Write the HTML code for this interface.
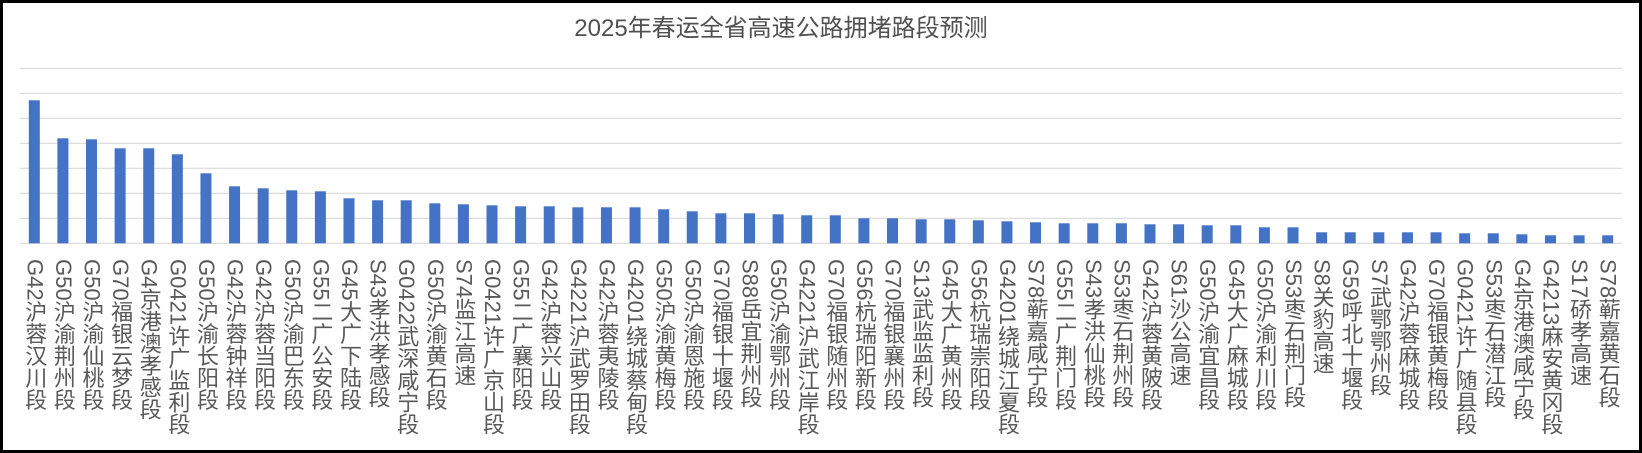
<!DOCTYPE html>
<html><head><meta charset="utf-8">
<style>
html,body{margin:0;padding:0;background:#fff;}
#wrap{position:relative;width:1642px;height:453px;box-sizing:border-box;border:3px solid #000;background:#fff;overflow:hidden;}
svg{position:absolute;left:-3px;top:-3px;}
.lbl{position:absolute;top:256px;writing-mode:vertical-rl;text-orientation:mixed;font-family:"Liberation Sans","Noto Sans CJK SC",sans-serif;font-size:22px;line-height:22px;color:#595959;white-space:nowrap;}
</style></head>
<body>
<div id="wrap">
<svg id="chart" width="1642" height="453" xmlns="http://www.w3.org/2000/svg">
<text x="781" y="36" text-anchor="middle" font-family="Liberation Sans, Noto Sans CJK SC, sans-serif" font-size="24" fill="#505050">2025年春运全省高速公路拥堵路段预测</text>
<g id="grid"></g>
<g id="bars"></g>
</svg>
<div id="labels"></div>
</div>
<script>
const categories = ["G42沪蓉汉川段","G50沪渝荆州段","G50沪渝仙桃段","G70福银云梦段","G4京港澳孝感段","G0421许广监利段","G50沪渝长阳段","G42沪蓉钟祥段","G42沪蓉当阳段","G50沪渝巴东段","G55二广公安段","G45大广下陆段","S43孝洪孝感段","G0422武深咸宁段","G50沪渝黄石段","S74监江高速","G0421许广京山段","G55二广襄阳段","G42沪蓉兴山段","G4221沪武罗田段","G42沪蓉夷陵段","G4201绕城蔡甸段","G50沪渝黄梅段","G50沪渝恩施段","G70福银十堰段","S88岳宜荆州段","G50沪渝鄂州段","G4221沪武江岸段","G70福银随州段","G56杭瑞阳新段","G70福银襄州段","S13武监监利段","G45大广黄州段","G56杭瑞崇阳段","G4201绕城江夏段","S78蕲嘉咸宁段","G55二广荆门段","S43孝洪仙桃段","S53枣石荆州段","G42沪蓉黄陂段","S61沙公高速","G50沪渝宜昌段","G45大广麻城段","G50沪渝利川段","S53枣石荆门段","S8关豹高速","G59呼北十堰段","S7武鄂鄂州段","G42沪蓉麻城段","G70福银黄梅段","G0421许广随县段","S53枣石潜江段","G4京港澳咸宁段","G4213麻安黄冈段","S17硚孝高速","S78蕲嘉黄石段"];
const values = [5.72,4.2,4.16,3.8,3.8,3.56,2.8,2.28,2.2,2.12,2.08,1.8,1.72,1.72,1.6,1.56,1.52,1.48,1.48,1.44,1.44,1.44,1.36,1.28,1.2,1.2,1.16,1.12,1.12,1.0,1.0,0.96,0.96,0.92,0.88,0.84,0.8,0.8,0.8,0.76,0.76,0.72,0.72,0.64,0.64,0.44,0.44,0.44,0.44,0.44,0.4,0.4,0.36,0.32,0.32,0.32];
const gridTicks = [0,1,2,3,4,5,6,7];

const NS="http://www.w3.org/2000/svg";
const X0=20, X1=1622, Y0=243.3, YMAX=7, PLOT_H=175;
const band=(X1-X0)/categories.length, barW=11;
function xCenter(i){return X0+band*(i+0.5);}
function yScale(v){return Y0-v/YMAX*PLOT_H;}

const grid=document.getElementById('grid');
gridTicks.forEach(t=>{
  const l=document.createElementNS(NS,'line');
  l.setAttribute('x1',X0);l.setAttribute('x2',X1);
  l.setAttribute('y1',yScale(t));l.setAttribute('y2',yScale(t));
  l.setAttribute('stroke','#d9d9d9');l.setAttribute('stroke-width','1.2');
  
  
  grid.appendChild(l);
});
const bars=document.getElementById('bars');
values.forEach((v,i)=>{
  const r=document.createElementNS(NS,'rect');
  r.setAttribute('x',xCenter(i)-barW/2);r.setAttribute('width',barW);
  r.setAttribute('y',yScale(v));r.setAttribute('height',Y0-yScale(v));
  r.setAttribute('fill','#4472c4');
  
  
  bars.appendChild(r);
});
const labels=document.getElementById('labels');
categories.forEach((c,i)=>{
  const d=document.createElement('div');
  d.className='lbl';
  d.style.left=(xCenter(i)-3-11)+'px';
  d.textContent=c;
  
  
  labels.appendChild(d);
});
</script>
</body></html>
